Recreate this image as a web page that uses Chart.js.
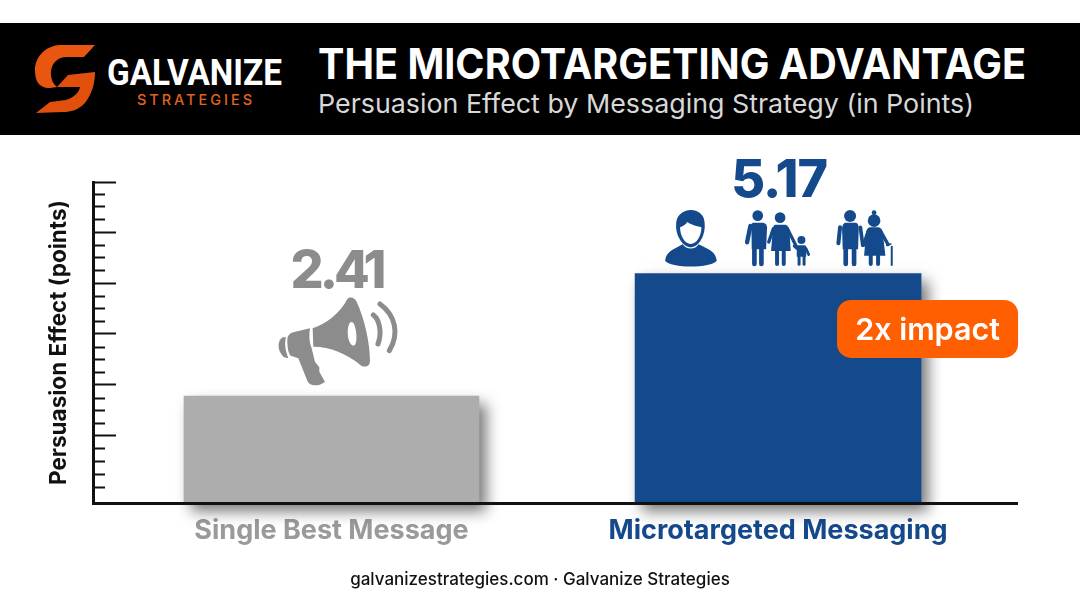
<!DOCTYPE html>
<html>
<head>
<meta charset="utf-8">
<title>The Microtargeting Advantage</title>
<script src="https://cdn.jsdelivr.net/npm/chart.js@4"></script>
<style>
    html, body { margin: 0; padding: 0; background: #fff; }
    #page { position: relative; width: 1080px; height: 603px; overflow: hidden; background: #fff; }
    #nobelChart { position: absolute; left: 0; top: 0; }
    #header { position: absolute; left: 0; top: 0; }
    #footer { position: absolute; left: 0; width: 1080px; top: 569px; text-align: center; font: 500 17px Inter, sans-serif; color: #111; }
</style>
</head>
<body>
<div id="page">
    <canvas id="nobelChart" width="1080" height="603"></canvas>
    <svg id="header" width="1080" height="140" font-family="Inter, sans-serif">
        <rect x="0" y="23" width="1080" height="112" fill="#000"></rect>
        <path fill="#e8560f" d="M95 45 L60 45 C44 46 35 58 35 70 C35 80 38 88 50 88 L57 87 C50 82 49 70 54 63 C57 59 61 57 66 57 L84 57 Z"></path>
        <path fill="#e0500c" d="M68 75 L95 72 C95 82 93 92 85 103 C78 110 71 112 63 112 L36 113 L50 102 L66 100 C73 98 79 93 80 87 L57 87 Z"></path>
        <text x="107" y="85" font-family="Roboto, sans-serif" font-size="37" font-weight="700" fill="#fff" textLength="175" lengthAdjust="spacingAndGlyphs">GALVANIZE</text>
        <text x="137" y="105" font-size="14.5" font-weight="500" fill="#e0631c" textLength="115" lengthAdjust="spacing">STRATEGIES</text>
        <text x="318" y="79" font-size="43" font-weight="700" fill="#fff" textLength="708" lengthAdjust="spacingAndGlyphs">THE MICROTARGETING ADVANTAGE</text>
        <text x="318" y="113" font-size="26" font-weight="400" fill="#d8d8d8" textLength="656" lengthAdjust="spacingAndGlyphs">Persuasion Effect by Messaging Strategy (in Points)</text>
    </svg>
    <div id="footer">galvanizestrategies.com · Galvanize Strategies</div>
</div>
<script>
const categories = ["Single Best Message", "Microtargeted Messaging"];
const seriesValues = [2.41, 5.17];
const barColors = ["#adadad", "#144a8c"];
const labelColors = ["#9a9a9a", "#144a8c"];
const valueColors = ["#8c8c8c", "#144a8c"];
const barWidths = [295, 286];
const majorTicks = [1.51, 2.66, 3.81, 4.95, 6.09, 7.23];
const minorTicks = [0.36, 0.65, 0.93, 1.22, 1.80, 2.08, 2.36, 2.94, 3.23, 3.51, 4.09, 4.38, 4.66, 5.24, 5.52, 5.80, 6.38, 6.67, 6.95];
const yMax = 7.23;

function limb(ctx, x1, y1, x2, y2, w) {
    ctx.lineWidth = w;
    ctx.beginPath();
    ctx.moveTo(x1, y1);
    ctx.lineTo(x2, y2);
    ctx.stroke();
}

function dot(ctx, x, y, r) {
    ctx.beginPath();
    ctx.arc(x, y, r, 0, Math.PI * 2);
    ctx.fill();
}

// megaphone, coordinates are the 3x zoom of the picture
function drawMegaphone(ctx, color) {
    ctx.fillStyle = color;
    ctx.strokeStyle = color;
    ctx.lineCap = "round";
    ctx.fill(new Path2D("M158 295 C200 280 240 250 262 207 C272 198 285 205 290 215 C315 270 330 340 330 395 C328 410 315 412 305 408 C260 370 210 350 160 350 Z M275 276 C265 276 262 300 264 318 C266 338 276 350 284 346 C292 338 290 310 286 295 C284 284 280 276 275 276 Z"), "evenodd");
    ctx.fill(new Path2D("M150 295 L100 307 C86 311 82 320 82 332 C82 350 85 370 92 377 L115 385 L142 452 C148 470 178 470 195 455 L178 425 L178 412 L165 395 L155 355 C147 335 147 315 150 295 Z"));
    ctx.fill(new Path2D("M68 322 C52 332 50 362 72 382 L85 385 C78 365 72 345 78 322 Z"));
    ctx.lineWidth = 15;
    ctx.stroke(new Path2D("M340 255 C360 270 366 310 354 342 M360 222 C405 255 420 310 388 362"));
}

// person, family and old couple, same zoom coordinates
function drawPeople(ctx, color) {
    ctx.fillStyle = color;
    ctx.strokeStyle = color;
    ctx.lineCap = "round";

    ctx.fill(new Path2D("M75 332 C78 302 110 294 128 283 C138 300 166 300 176 283 C195 294 228 302 230 332 C215 355 90 355 75 332 Z"));
    ctx.fill(new Path2D("M108 228 C106 195 130 180 152 180 C176 180 196 195 194 228 C194 260 175 292 152 292 C130 292 108 260 108 228 Z"));
    ctx.fillStyle = "#fff";
    ctx.fill(new Path2D("M120 232 C130 228 138 222 142 216 C155 226 172 228 184 232 C184 258 170 282 152 282 C134 282 120 258 120 232 Z"));
    ctx.fillStyle = color;

    // family
    dot(ctx, 353, 197, 16);
    ctx.fill(new Path2D("M338 218 L370 218 C378 220 380 226 381 232 L378 298 L335 298 L334 232 C334 224 335 220 338 218 Z"));
    limb(ctx, 331, 228, 321, 277, 13);
    limb(ctx, 343, 295, 343, 342, 14);
    limb(ctx, 364, 295, 364, 342, 14);
    dot(ctx, 420, 203, 16);
    ctx.fill(new Path2D("M405 224 L436 224 C444 226 446 232 448 240 L452 303 L393 303 L398 240 C398 232 400 226 405 224 Z"));
    limb(ctx, 400, 236, 386, 276, 10);
    limb(ctx, 442, 236, 470, 292, 10);
    limb(ctx, 411, 300, 411, 342, 12);
    limb(ctx, 431, 300, 431, 342, 12);
    dot(ctx, 484, 270, 12);
    ctx.fill(new Path2D("M474 286 L494 286 C498 288 500 292 500 296 L498 320 L470 320 L470 296 C470 292 471 288 474 286 Z"));
    limb(ctx, 470, 296, 462, 288, 8);
    limb(ctx, 498, 296, 506, 314, 8);
    limb(ctx, 477, 318, 477, 343, 9);
    limb(ctx, 492, 318, 492, 343, 9);

    // old couple
    dot(ctx, 630, 198, 18);
    ctx.fill(new Path2D("M615 218 L648 218 C654 220 656 226 656 236 L654 298 L608 298 L606 236 C606 226 610 220 615 218 Z"));
    limb(ctx, 600, 232, 595, 280, 12);
    limb(ctx, 661, 232, 668, 286, 11);
    limb(ctx, 617, 295, 617, 342, 14);
    limb(ctx, 642, 295, 642, 342, 14);
    dot(ctx, 702, 188, 7);
    dot(ctx, 702, 212, 19);
    ctx.fill(new Path2D("M688 232 L716 232 C724 234 726 240 728 248 L736 317 L672 317 L678 248 C680 240 682 234 688 232 Z"));
    limb(ctx, 684, 244, 670, 286, 10);
    limb(ctx, 722, 244, 744, 284, 10);
    limb(ctx, 692, 310, 692, 342, 12);
    limb(ctx, 714, 310, 714, 342, 12);
    limb(ctx, 755, 290, 755, 345, 6);
    limb(ctx, 740, 286, 752, 282, 5);
}

const barShadow = {
    id: "barShadow",
    beforeDatasetsDraw(chart) {
        const ctx = chart.ctx;
        ctx.save();
        ctx.shadowColor = "rgba(0,0,0,0.55)";
        ctx.shadowBlur = 14;
        ctx.shadowOffsetX = 7;
        ctx.shadowOffsetY = 8;
    },
    afterDatasetsDraw(chart) {
        chart.ctx.restore();
    },
};

// value numbers, icons and the badge hang off the bars
const annotations = {
    id: "annotations",
    afterDraw(chart) {
        const ctx = chart.ctx;
        const first = chart.getDatasetMeta(0).data[0];
        const second = chart.getDatasetMeta(1).data[0];

        ctx.save();
        ctx.textAlign = "center";
        ctx.textBaseline = "middle";
        ctx.font = "800 52px Inter, sans-serif";
        ctx.letterSpacing = "-4px";
        ctx.fillStyle = valueColors[0];
        ctx.fillText(seriesValues[0].toFixed(2), first.x + 5, first.y - 124);
        ctx.letterSpacing = "-1px";
        ctx.fillStyle = valueColors[1];
        ctx.fillText(seriesValues[1].toFixed(2), second.x + 1, second.y - 92);
        ctx.restore();

        ctx.save();
        ctx.translate(first.x - 331.5 + 260, first.y - 396 + 230);
        ctx.scale(1 / 3, 1 / 3);
        drawMegaphone(ctx, valueColors[0]);
        ctx.restore();

        ctx.save();
        ctx.translate(second.x - 778 + 640, second.y - 273.5 + 150);
        ctx.scale(1 / 3, 1 / 3);
        drawPeople(ctx, valueColors[1]);
        ctx.restore();

        ctx.save();
        ctx.fillStyle = "#ff5f00";
        ctx.beginPath();
        ctx.roundRect(second.x + 59, second.y + 26.5, 181, 58, 14);
        ctx.fill();
        ctx.fillStyle = "#fff";
        ctx.font = "600 30.5px Inter, sans-serif";
        ctx.textAlign = "center";
        ctx.textBaseline = "middle";
        ctx.fillText("2x impact", second.x + 149.5, second.y + 57);
        ctx.restore();
    },
};

const ctx = document.getElementById("nobelChart").getContext("2d");
const nobelChart = new Chart(ctx, {
    type: "bar",
    data: {
        datasets: categories.map((name, i) => ({
            label: name,
            data: [{ x: i, y: seriesValues[i] }],
            backgroundColor: barColors[i],
            barThickness: barWidths[i],
            grouped: false,
            clip: false,
        })),
    },
    plugins: [barShadow, annotations],
    options: {
        responsive: false,
        animation: false,
        layout: { padding: { top: 182, right: 63, left: 0, bottom: 0 } },
        plugins: {
            legend: { display: false },
            title: { display: false },
            tooltip: { enabled: false },
        },
        scales: {
            x: {
                type: "linear",
                offset: false,
                min: -0.534,
                max: 1.535,
                afterBuildTicks: (axis) => {
                    axis.ticks = categories.map((name, i) => ({ value: i }));
                },
                afterFit: (axis) => {
                    axis.height = 100;
                },
                grid: { display: false, drawTicks: false, offset: false },
                border: { display: true, color: "#111", width: 3, z: 2 },
                ticks: {
                    autoSkip: false,
                    maxRotation: 0,
                    padding: 12,
                    font: { family: "Inter, sans-serif", size: 27, weight: "700" },
                    color: (c) => labelColors[c.index],
                    callback: (value) => categories[value],
                },
            },
            y: {
                weight: 1,
                min: 0,
                max: yMax,
                afterBuildTicks: (axis) => {
                    axis.ticks = majorTicks.map((value) => ({ value }));
                },
                afterFit: (axis) => {
                    axis.width = 93;
                },
                grid: { drawOnChartArea: false, tickLength: -23, tickWidth: 2, tickColor: "#111" },
                border: { display: true, color: "#111", width: 3, z: 2 },
                ticks: { display: false },
                title: {
                    display: true,
                    text: "Persuasion Effect (points)",
                    color: "#111",
                    font: { family: "Inter, sans-serif", size: 22.5, weight: "700" },
                    padding: { top: 46, bottom: 0 },
                },
            },
            yMinor: {
                weight: 0,
                position: "left",
                min: 0,
                max: yMax,
                afterBuildTicks: (axis) => {
                    axis.ticks = minorTicks.map((value) => ({ value }));
                },
                afterFit: (axis) => {
                    axis.width = 0;
                },
                grid: { drawOnChartArea: false, tickLength: -12, tickWidth: 2, tickColor: "#111" },
                border: { display: false },
                ticks: { display: false },
            },
        },
    },
});
</script>
</body>
</html>
